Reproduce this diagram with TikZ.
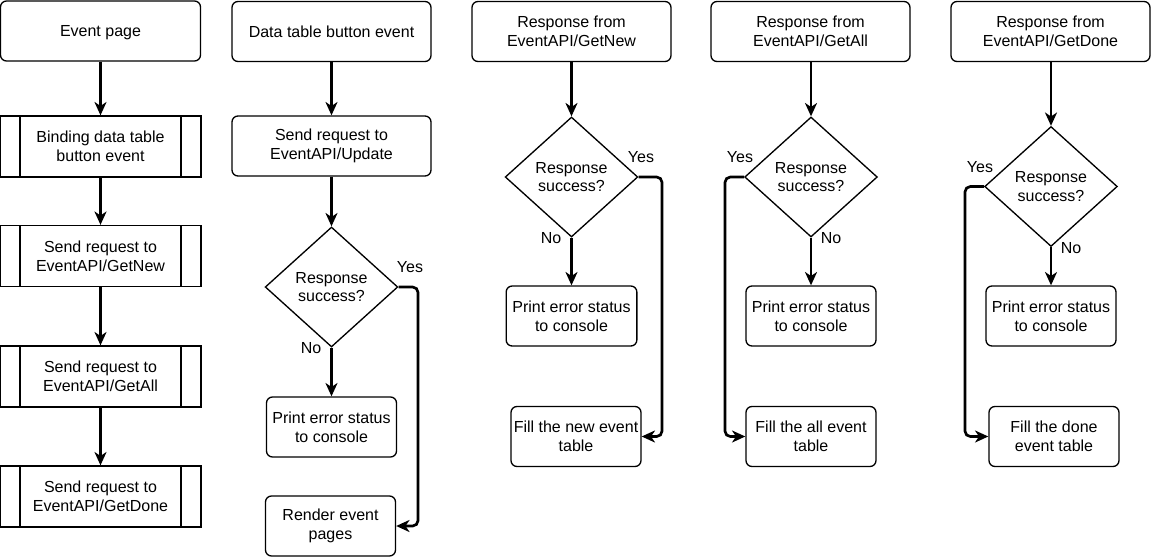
\documentclass[tikz,border=0pt]{standalone}
\usepackage{fontspec}
\setmainfont{Liberation Sans}
\usetikzlibrary{arrows.meta,shapes.geometric}

\begin{document}
\begin{tikzpicture}[x=0.75pt,y=-0.75pt,font=\fontsize{12}{14}\selectfont,
  box/.style={draw,line width=1pt,rounded corners=4.5pt,align=center,minimum width=#1,minimum height=45pt,inner sep=1pt},
  box/.default=149.25pt,
  subproc/.style={draw,line width=1pt,align=center,minimum width=150.75pt,minimum height=45.75pt,inner sep=1pt,
    path picture={\draw[line width=1pt] ([xshift=15pt]path picture bounding box.north west)--([xshift=15pt]path picture bounding box.south west)
      ([xshift=-15pt]path picture bounding box.north east)--([xshift=-15pt]path picture bounding box.south east);}},
  decision/.style={draw,line width=1pt,diamond,align=center,minimum width=99.5pt,minimum height=90pt,inner sep=0pt},
  flow/.style={line width=2pt,rounded corners=4pt,-{Stealth[length=10pt,width=9pt,inset=3pt]}}]
\useasboundingbox (0,0) rectangle (1152,557);

% column 1
\node[box=150pt,text depth=0pt] (ev) at (100.5,31) {Event page};
\node[subproc] (bind) at (100.5,146.5) {Binding data table\\button event};
\node[subproc] (gnew) at (100.5,256) {Send request to\\EventAPI/GetNew};
\node[subproc] (gall) at (100.5,376.5) {Send request to\\EventAPI/GetAll};
\node[subproc] (gdone) at (100.5,496.5) {Send request to\\EventAPI/GetDone};
\draw[flow] (ev)--(bind);
\draw[flow] (bind)--(gnew);
\draw[flow] (gnew)--(gall);
\draw[flow] (gall)--(gdone);

% column 2
\node[box] (dtb) at (331.5,31.5) {Data table button event};
\node[box] (upd) at (331.5,146) {Send request to\\EventAPI/Update};
\node[decision] (d2) at (331.5,287) {Response\\success?};
\node[box=97.5pt] (err2) at (331.5,427) {Print error status\\to console};
\node[box=97.5pt] (rend) at (330.5,526) {Render event\\pages};
\coordinate (y2) at (418,0);
\draw[flow] (dtb)--(upd);
\draw[flow] (upd)--(d2);
\draw[flow] (d2)--(err2);
\draw[flow] (d2.east) -| (y2 |- rend.east) -- (rend.east);
\node (yes2) at (410,267) {Yes};
\node (no2) at (311,348) {No};

% column 3
\node[box] (rnew) at (571.5,31.5) {Response from\\EventAPI/GetNew};
\node[decision] (d3) at (571.5,177) {Response\\success?};
\node[box=98pt] (err3) at (571.5,316) {Print error status\\to console};
\node[box=97.5pt] (fnew) at (576,436.5) {Fill the new event\\table};
\coordinate (y3) at (662,0);
\draw[flow] (rnew)--(d3);
\draw[flow] (d3)--(err3);
\draw[flow] (d3.east) -| (y3 |- fnew.east) -- (fnew.east);
\node (yes3) at (641,157) {Yes};
\node (no3) at (551,238) {No};

% column 4
\node[box] (rall) at (810.5,31.5) {Response from\\EventAPI/GetAll};
\node[decision] (d4) at (811,177) {Response\\success?};
\node[box=97.5pt] (err4) at (811,316) {Print error status\\to console};
\node[box=97.5pt] (fall) at (811,436.5) {Fill the all event\\table};
\coordinate (y4) at (725,0);
\draw[flow] (rall.south -| d4)--(d4);
\draw[flow] (d4)--(err4);
\draw[flow] (d4.west) -| (y4 |- fall.west) -- (fall.west);
\node (yes4) at (740,157) {Yes};
\node (no4) at (831,238) {No};

% column 5
\node[box] (rdone) at (1050.5,31.5) {Response from\\EventAPI/GetDone};
\node[decision] (d5) at (1051,186.5) {Response\\success?};
\node[box=97.5pt] (err5) at (1051,316) {Print error status\\to console};
\node[box=97.5pt] (fdone) at (1054,436.5) {Fill the done\\event table};
\coordinate (y5) at (965,0);
\draw[flow] (rdone.south -| d5)--(d5);
\draw[flow] (d5)--(err5);
\draw[flow] (d5.west) -| (y5 |- fdone.west) -- (fdone.west);
\node (yes5) at (980,167) {Yes};
\node (no5) at (1071,248) {No};
\end{tikzpicture}
\end{document}
